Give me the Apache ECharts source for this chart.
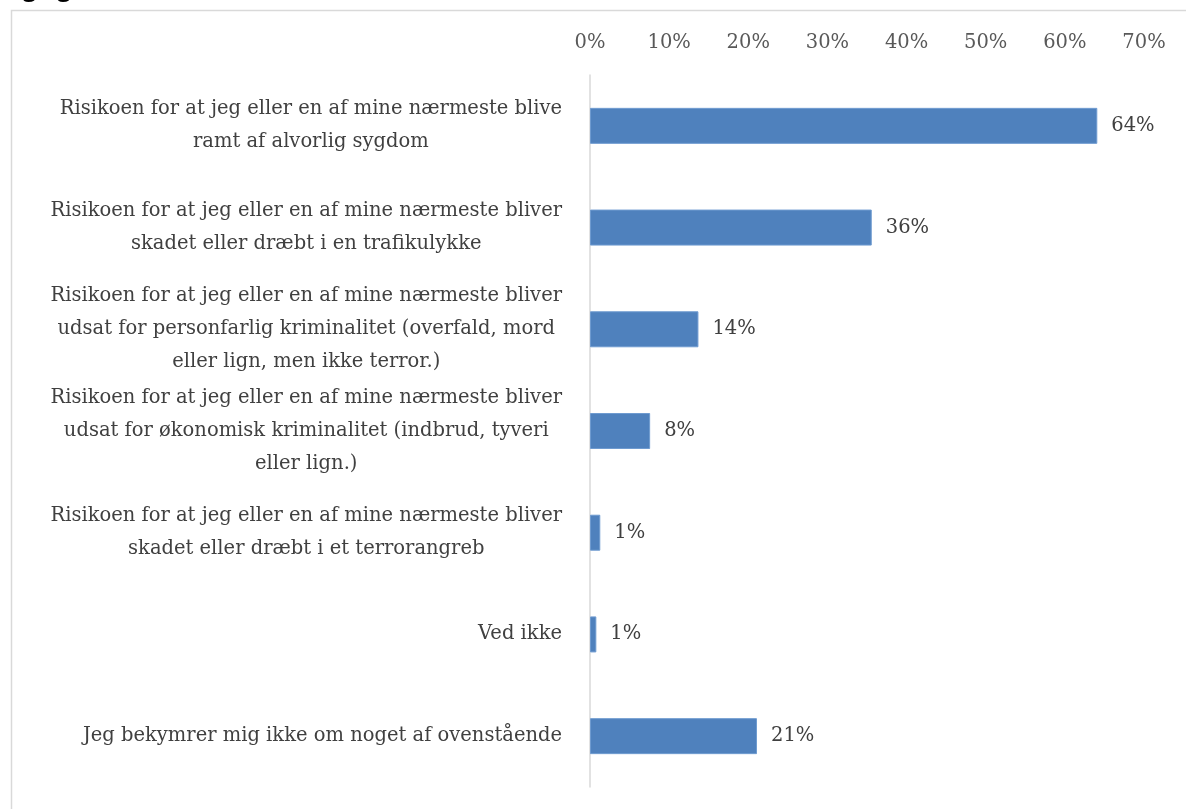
<!DOCTYPE html>
<html>
<head>
<meta charset="utf-8">
<script src="https://cdn.jsdelivr.net/npm/echarts@6/dist/echarts.min.js"></script>
<style>
html,body{margin:0;padding:0;background:#fff;}
#chart{width:1186px;height:809px;}
</style>
</head>
<body>
<div id="chart"></div>
<script>
const categories = [
  "Risikoen for at jeg eller en af mine nærmeste blive\nramt af alvorlig sygdom",
  "Risikoen for at jeg eller en af mine nærmeste bliver\nskadet eller dræbt i en trafikulykke",
  "Risikoen for at jeg eller en af mine nærmeste bliver\nudsat for personfarlig kriminalitet (overfald, mord\neller lign, men ikke terror.)",
  "Risikoen for at jeg eller en af mine nærmeste bliver\nudsat for økonomisk kriminalitet (indbrud, tyveri\neller lign.)",
  "Risikoen for at jeg eller en af mine nærmeste bliver\nskadet eller dræbt i et terrorangreb",
  "Ved ikke",
  "Jeg bekymrer mig ikke om noget af ovenstående"
];
const values = [64.1, 35.6, 13.7, 7.6, 1.3, 0.8, 21.1];
const valueLabels = ["64%", "36%", "14%", "8%", "1%", "1%", "21%"];
const xTickValues = [0, 10, 20, 30, 40, 50, 60, 70];

const FONT = "'DejaVu Serif', serif";
const FS = 19.5;
const chart = echarts.init(document.getElementById('chart'));
chart.setOption({
  animation: false,
  backgroundColor: '#fff',
  graphic: [
    { type: 'rect', left: 9, top: 8, shape: { width: 1300, height: 900 },
      style: { fill: 'none', stroke: '#d9d9d9', lineWidth: 1.5 }, silent: true },
    { type: 'text', left: 8, top: -23,
      style: { text: 'og lignende)', font: "bold 24px 'Open Sans', sans-serif", fill: '#000' } }
  ],
  grid: { left: 590, right: 42, top: 75, bottom: 22, containLabel: false },
  xAxis: {
    type: 'value', position: 'top', min: 0, max: 70, interval: 10,
    axisLine: { show: false }, axisTick: { show: false }, splitLine: { show: false },
    axisLabel: { formatter: '{value}%', color: '#595959', fontFamily: FONT, fontSize: FS, margin: 22 }
  },
  yAxis: {
    type: 'category', inverse: true, data: categories,
    axisLine: { show: true, lineStyle: { color: '#d9d9d9', width: 1.5 } },
    axisTick: { show: false },
    axisLabel: {
      margin: 28, align: 'right',
      formatter: function (v) { return v.split('\n').map(l => '{c|' + l + '}').join('\n'); },
      rich: { c: { align: 'center', fontFamily: FONT, fontSize: FS, lineHeight: 33, color: '#404040' } }
    }
  },
  series: [{
    type: 'bar', data: values, barWidth: 36,
    itemStyle: { color: '#4f81bd', borderColor: '#6f9bd0', borderWidth: 1 },
    label: {
      show: true, position: 'right', distance: 14,
      formatter: function (p) { return valueLabels[p.dataIndex]; },
      fontFamily: FONT, fontSize: FS, color: '#404040'
    }
  }]
});
</script>
</body>
</html>
